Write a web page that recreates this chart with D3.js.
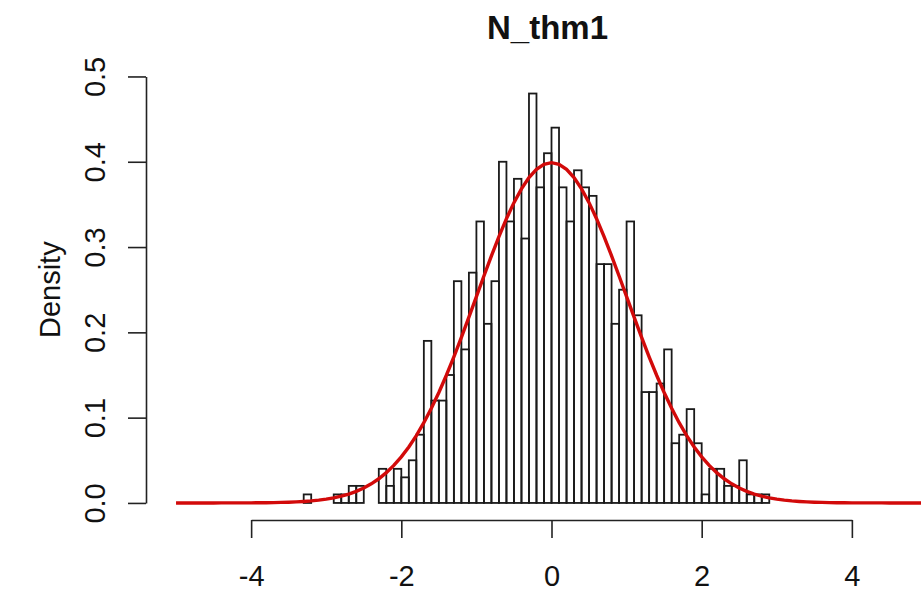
<!DOCTYPE html>
<html>
<head>
<meta charset="utf-8">
<script src="https://cdn.jsdelivr.net/npm/d3@7"></script>
<style>
  body { margin: 0; background: #fff; }
  svg { display: block; font-family: Arial, "Liberation Sans", sans-serif; }
  .bar { fill: none; stroke: #1a1a1a; stroke-width: 1.8; }
  .axis path, .axis line { stroke: #222; stroke-width: 1.6; }
  .axis text { font-size: 29px; fill: #111; }
  .curve { fill: none; stroke: #d20a0a; stroke-width: 3.4; }
</style>
</head>
<body>
<script>
const width = 921, height = 596;

// histogram: left edge of each 0.1 wide bin and its density
const binLeft = [-3.3, -3.2, -3.1, -3.0, -2.9, -2.8, -2.7, -2.6, -2.5, -2.4,
  -2.3, -2.2, -2.1, -2.0, -1.9, -1.8, -1.7, -1.6, -1.5, -1.4,
  -1.3, -1.2, -1.1, -1.0, -0.9, -0.8, -0.7, -0.6, -0.5, -0.4,
  -0.3, -0.2, -0.1, 0.0, 0.1, 0.2, 0.3, 0.4, 0.5, 0.6,
  0.7, 0.8, 0.9, 1.0, 1.1, 1.2, 1.3, 1.4, 1.5, 1.6,
  1.7, 1.8, 1.9, 2.0, 2.1, 2.2, 2.3, 2.4, 2.5, 2.6,
  2.7, 2.8];
const density = [0.01, 0, 0, 0, 0.01, 0.01, 0.02, 0.02, 0, 0,
  0.04, 0.02, 0.04, 0.03, 0.05, 0.08, 0.19, 0.12, 0.12, 0.15,
  0.26, 0.18, 0.27, 0.33, 0.21, 0.26, 0.40, 0.33, 0.38, 0.31,
  0.48, 0.37, 0.41, 0.44, 0.37, 0.33, 0.39, 0.37, 0.36, 0.28,
  0.28, 0.21, 0.25, 0.33, 0.22, 0.13, 0.13, 0.14, 0.18, 0.07,
  0.08, 0.11, 0.07, 0.01, 0.04, 0.04, 0.02, 0.02, 0.05, 0.01,
  0.01, 0.01];
const binWidth = 0.1;

const xTicks = [-4, -2, 0, 2, 4];
const yTicks = [0, 0.1, 0.2, 0.3, 0.4, 0.5];

// overlay: standard normal density, as curve(dnorm(x), -5, 5, add = TRUE)
const curveMean = 0, curveSd = 1, curveFrom = -5, curveTo = 5, curveN = 101;

const svg = d3.select("body").append("svg")
.attr("width", width)
.attr("height", height);

const scaleX = d3.scaleLinear()
.domain([-5.4, 5.4])
.range([146, 957]);

const scaleY = d3.scaleLinear()
.domain([-0.02, 0.52])
.range([520, 59.4]);

// bars
svg.selectAll(".bar")
.data(binLeft.map((b, i) => ({x0: b, x1: b + binWidth, d: density[i]})))
.enter()
.append("rect")
.attr("class", "bar")
.attr("x", (d) => scaleX(d.x0))
.attr("width", (d) => scaleX(d.x1) - scaleX(d.x0))
.attr("y", (d) => scaleY(d.d))
.attr("height", (d) => scaleY(0) - scaleY(d.d));

// normal curve
const dnorm = (x) => Math.exp(-0.5 * ((x - curveMean) / curveSd) ** 2) / (curveSd * Math.sqrt(2 * Math.PI));
const curvePts = d3.range(curveN).map((i) => {
  const x = curveFrom + (curveTo - curveFrom) * i / (curveN - 1);
  return {x: x, y: dnorm(x)};
});

const line = d3.line()
.x((d) => scaleX(d.x))
.y((d) => scaleY(d.y));

svg.append("path")
.attr("class", "curve")
.attr("d", line(curvePts));

// x axis, line only between the outer ticks like R
const axisXScale = scaleX.copy()
.domain([xTicks[0], xTicks[xTicks.length - 1]])
.range([scaleX(xTicks[0]), scaleX(xTicks[xTicks.length - 1])]);

svg.append("g")
.attr("class", "axis axisX")
.attr("transform", `translate(0, ${scaleY.range()[0]})`)
.call(d3.axisBottom(axisXScale).tickValues(xTicks).tickSize(18).tickSizeOuter(0).tickPadding(27).tickFormat(d3.format("d")))
.call((g) => g.selectAll("text").text((d) => d < 0 ? "-" + Math.abs(d) : d));

// y axis, labels turned like R
const axisYScale = scaleY.copy()
.domain([yTicks[0], yTicks[yTicks.length - 1]])
.range([scaleY(yTicks[0]), scaleY(yTicks[yTicks.length - 1])]);

svg.append("g")
.attr("class", "axis axisY")
.attr("transform", `translate(${scaleX.range()[0]}, 0)`)
.call(d3.axisLeft(axisYScale).tickValues(yTicks).tickSize(18).tickSizeOuter(0).tickFormat(d3.format(".1f")))
.call((g) => g.selectAll("text")
  .attr("transform", "rotate(-90)")
  .attr("x", 0)
  .attr("y", -41)
  .attr("dy", 0)
  .attr("text-anchor", "middle"));

svg.append("text")
.attr("transform", `translate(60, ${(scaleY.range()[0] + scaleY.range()[1]) / 2}) rotate(-90)`)
.attr("text-anchor", "middle")
.style("font-size", "29px")
.style("fill", "#111")
.text("Density");

svg.append("text")
.attr("x", (scaleX.range()[0] + scaleX.range()[1]) / 2 - 4)
.attr("y", 39)
.attr("text-anchor", "middle")
.style("font-size", "33px")
.style("font-weight", "bold")
.style("fill", "#111")
.text("N_thm1");
</script>
</body>
</html>
